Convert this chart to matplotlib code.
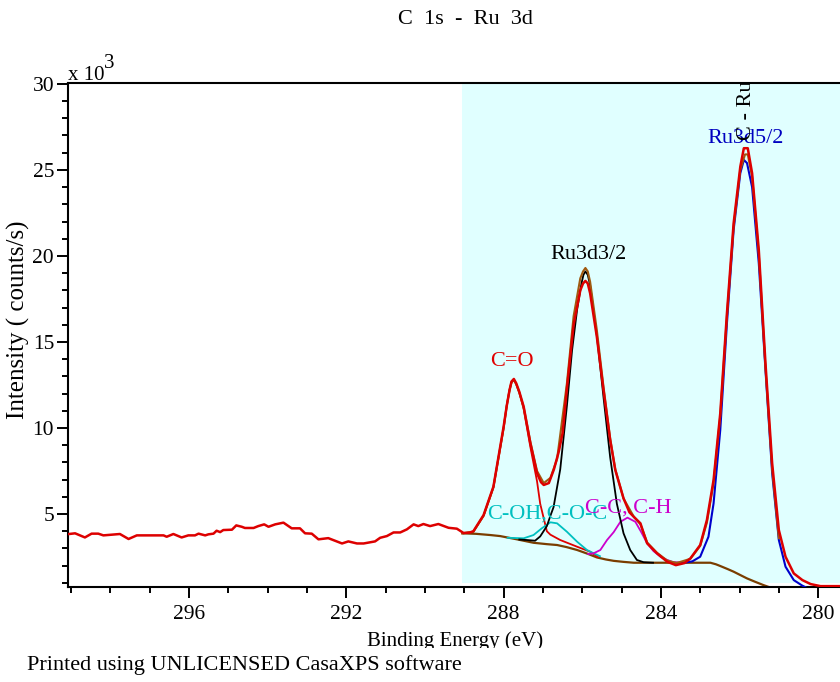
import matplotlib
matplotlib.use("Agg")
import matplotlib.pyplot as plt
from matplotlib.patches import Rectangle
from matplotlib.ticker import MultipleLocator

# measured spectrum (binding energy in eV, counts in thousands)
be_data = [299.28, 298.90, 298.65, 298.48, 298.31, 298.18, 297.76, 297.54, 297.33, 296.65,
           296.57, 296.40, 296.19, 296.02, 295.85, 295.76, 295.59, 295.51, 295.38, 295.30,
           295.21, 295.13, 294.91, 294.80, 294.66, 294.58, 294.36, 294.24, 294.09, 293.98,
           293.81, 293.60, 293.39, 293.18, 293.05, 292.88, 292.71, 292.46, 292.11, 291.95,
           291.73, 291.56, 291.27, 291.14, 290.97, 290.80, 290.63, 290.46, 290.29, 290.17,
           290.04, 289.87, 289.66, 289.40, 289.19, 289.02, 288.87, 288.77, 288.51, 288.26,
           288.00, 287.92, 287.85, 287.80, 287.74, 287.68, 287.60, 287.49, 287.32, 287.15,
           287.05, 286.98, 286.85, 286.72, 286.60, 286.50, 286.39, 286.22, 286.05, 285.98,
           285.92, 285.86, 285.80, 285.63, 285.46, 285.29, 285.16, 284.95, 284.80, 284.69,
           284.52, 284.44, 284.35, 284.10, 283.84, 283.62, 283.40, 283.25, 283.00, 282.83,
           282.66, 282.49, 282.32, 282.15, 281.98, 281.89, 281.79, 281.68, 281.51, 281.34,
           281.17, 281.00, 280.83, 280.62, 280.40, 280.19, 279.94, 279.20]
counts_data = [3.78, 3.88, 3.64, 3.86, 3.86, 3.76, 3.84, 3.55, 3.76, 3.76,
               3.68, 3.84, 3.64, 3.76, 3.76, 3.86, 3.76, 3.82, 3.86, 4.03,
               3.95, 4.07, 4.09, 4.34, 4.26, 4.19, 4.19, 4.30, 4.40, 4.26,
               4.40, 4.50, 4.17, 4.17, 3.88, 3.86, 3.53, 3.60, 3.29, 3.41,
               3.29, 3.29, 3.41, 3.62, 3.72, 3.93, 3.93, 4.11, 4.40, 4.30,
               4.42, 4.30, 4.42, 4.20, 4.15, 3.90, 3.92, 4.00, 4.94, 6.59,
               10.08, 11.3, 12.2, 12.7, 12.85, 12.6, 12.1, 11.24, 9.11, 7.37,
               6.85, 6.69, 6.8, 7.6, 8.6, 9.7, 12.3, 16.0, 18.0, 18.4,
               18.55, 18.4, 17.83, 15.31, 12.21, 9.30, 7.56, 5.91, 5.1, 4.84,
               4.46, 3.9, 3.30, 2.72, 2.23, 2.03, 2.15, 2.42, 3.20, 4.65,
               6.98, 10.85, 16.67, 21.90, 25.19, 26.26, 26.26, 24.81, 20.35, 13.76,
               7.95, 4.07, 2.52, 1.55, 1.16, 0.93, 0.81, 0.81]

# fit envelope
be_env = [289.05, 288.77, 288.51, 288.26, 288.00, 287.92, 287.85, 287.80, 287.74, 287.68,
          287.60, 287.49, 287.32, 287.15, 286.98, 286.81, 286.64, 286.39, 286.22, 286.05,
          285.98, 285.92, 285.86, 285.80, 285.63, 285.46, 285.29, 285.16, 284.95, 284.69,
          284.52, 284.35, 284.10, 283.84, 283.60, 283.25, 283.00, 282.83, 282.66, 282.49,
          282.32, 282.15, 281.98, 281.86, 281.79, 281.68, 281.51, 281.34, 281.17, 281.00]
counts_env = [3.88, 3.97, 4.90, 6.55, 10.0, 11.3, 12.2, 12.65, 12.8, 12.55,
              12.05, 11.2, 9.2, 7.5, 6.8, 7.1, 8.2, 12.6, 16.5, 18.7,
              19.1, 19.3, 19.1, 18.5, 15.7, 12.4, 9.4, 7.6, 5.9, 4.85,
              4.4, 3.35, 2.75, 2.3, 2.15, 2.4, 3.15, 4.5, 6.8, 10.7,
              16.5, 21.7, 25.0, 25.9, 25.9, 24.6, 20.1, 13.5, 7.6, 3.6]

# background
be_bg = [289.05, 288.70, 288.34, 288.09, 287.66, 287.24, 286.90, 286.64, 286.40, 286.13,
         285.85, 285.63, 285.40, 285.20, 284.95, 284.69, 284.20, 283.50, 282.74, 282.60,
         282.49, 282.30, 282.15, 281.95, 281.81, 281.60, 281.39, 281.00]
counts_bg = [3.88, 3.85, 3.78, 3.72, 3.53, 3.33, 3.25, 3.20, 3.08, 2.91,
             2.68, 2.48, 2.36, 2.28, 2.22, 2.17, 2.17, 2.17, 2.17, 2.08,
             1.98, 1.80, 1.65, 1.42, 1.26, 1.06, 0.87, 0.55]

# components
be_co = [289.02, 288.77, 288.51, 288.26, 288.00, 287.92, 287.85, 287.80, 287.74, 287.68,
         287.60, 287.49, 287.32, 287.15, 287.07, 286.90, 286.81, 286.56, 286.13, 285.80,
         285.60]
counts_co = [3.88, 3.97, 4.9, 6.55, 10.0, 11.3, 12.2, 12.65, 12.8, 12.55,
             12.05, 11.1, 8.9, 6.9, 5.6, 4.0, 3.8, 3.49, 3.10, 2.81,
             2.5]

be_coh = [287.90, 287.49, 287.24, 287.03, 286.81, 286.64, 286.39, 286.13, 285.88, 285.71, 285.55]
counts_coh = [3.62, 3.59, 3.78, 4.17, 4.52, 4.46, 3.97, 3.39, 2.91, 2.72, 2.55]

be_cc = [285.85, 285.71, 285.54, 285.37, 285.20, 285.03, 284.85, 284.65, 284.50, 284.35,
         284.19, 284.00, 283.84, 283.68, 283.50]
counts_cc = [2.68, 2.72, 2.91, 3.49, 3.95, 4.55, 4.79, 4.55, 3.95, 3.30,
             2.85, 2.5, 2.33, 2.2, 2.17]

be_ru32 = [287.60, 287.41, 287.20, 287.07, 286.90, 286.81, 286.73, 286.56, 286.39, 286.26,
           286.13, 286.02, 285.97, 285.92, 285.86, 285.80, 285.63, 285.46, 285.29, 285.12,
           284.95, 284.78, 284.61, 284.44, 284.20]
counts_ru32 = [3.52, 3.49, 3.45, 3.7, 4.3, 4.9, 5.4, 7.6, 11.3, 14.5,
               16.9, 18.4, 18.9, 19.1, 18.9, 18.3, 15.4, 11.8, 8.3, 5.6,
               3.88, 2.91, 2.33, 2.2, 2.17]

be_ru52 = [283.51, 283.20, 283.00, 282.79, 282.66, 282.49, 282.32, 282.15, 281.98, 281.89,
           281.81, 281.68, 281.51, 281.34, 281.17, 281.00, 280.83, 280.62, 280.41, 280.20]
counts_ru52 = [2.13, 2.25, 2.52, 3.68, 5.62, 9.88, 16.09, 21.51, 24.81, 25.58,
               25.4, 24.0, 19.58, 13.37, 7.37, 3.49, 1.94, 1.16, 0.85, 0.6]

x_ticks = [296, 292, 288, 284, 280]
y_ticks = [5, 10, 15, 20, 25, 30]

plt.rcParams["font.family"] = "Liberation Serif"

W, H = 840, 682
fig = plt.figure(figsize=(W / 100, H / 100), dpi=100)
ax = fig.add_axes([68 / W, (H - 587) / H, (850 - 68) / W, (587 - 83) / H])

ax.set_xlim(299.08, 279.19)
ax.set_ylim(0.76, 30.05)

# fitting region shading
ax.axvspan(289.05, 279.0, ymin=0.008, ymax=1, color="#e0ffff", lw=0, zorder=0)

ax.plot(be_bg, counts_bg, color="#7a3d00", lw=1.6, zorder=2)
ax.plot(be_co, counts_co, color="#e00000", lw=1.3, zorder=3)
ax.plot(be_coh, counts_coh, color="#00c0c0", lw=1.3, zorder=3)
ax.plot(be_cc, counts_cc, color="#cc00cc", lw=1.3, zorder=3)
ax.plot(be_ru32, counts_ru32, color="black", lw=1.3, zorder=3)
ax.plot(be_ru52, counts_ru52, color="#0000cc", lw=1.5, zorder=3)
ax.plot(be_env, counts_env, color="#a05a10", lw=1.5, zorder=4)
ax.plot(be_data, counts_data, color="#dd0000", lw=1.8, zorder=5)

# peak labels
fs = 16
ax.text(287.78, 13.85, "C=O", color="#e00000", ha="center", va="center", fontsize=fs)
ax.text(285.85, 20.1, "Ru3d3/2", color="black", ha="center", va="center", fontsize=fs)
ax.text(281.85, 26.85, "Ru3d5/2", color="#0000c0", ha="center", va="center", fontsize=fs)
ax.text(288.42, 5.0, "C-OH,C-O-C", color="#00c0c0", ha="left", va="center", fontsize=fs)
ax.text(285.92, 5.35, "C-C, C-H", color="#cc00cc", ha="left", va="center", fontsize=fs)
ax.text(281.81, 26.75, "C - Ru", color="black", ha="center", va="bottom",
        rotation=90, fontsize=fs, clip_on=True)

ax.set_xticks(x_ticks)
ax.set_yticks(y_ticks)
ax.xaxis.set_minor_locator(MultipleLocator(1))
ax.yaxis.set_minor_locator(MultipleLocator(1))
ax.tick_params(which="major", direction="out", length=8, width=1.4, labelsize=15.5, pad=5)
ax.tick_params(which="minor", direction="out", length=4.3, width=1.4)
ax.tick_params(axis="y", which="major", pad=2)
for side in ["left", "bottom", "top"]:
    ax.spines[side].set_linewidth(1.5)
ax.spines["right"].set_visible(False)

fig.text(465 / W, 1 - 20 / H, "C  1s  -  Ru  3d", ha="center", va="center", fontsize=fs)
fig.text(68 / W, 1 - 76 / H, "x 10", ha="left", va="center", fontsize=15)
fig.text(104 / W, 1 - 64 / H, "3", ha="left", va="center", fontsize=15)
fig.text(18 / W, 1 - 320 / H, "Intensity ( counts/s)", ha="center", va="center",
         rotation=90, fontsize=18)
fig.text(455 / W, 1 - 641 / H, "Binding Energy (eV)", ha="center", va="center", fontsize=15)

# the footer strip hides the bottom of the axis title, as in the original print
fig.patches.append(Rectangle((0, 0), 1, (H - 648) / H, transform=fig.transFigure,
                             facecolor="white", edgecolor="none", zorder=5))
fig.text(27 / W, 1 - 665 / H, "Printed using UNLICENSED CasaXPS software",
         ha="left", va="center", fontsize=fs, zorder=6)

fig.savefig("out.png", dpi=100)
